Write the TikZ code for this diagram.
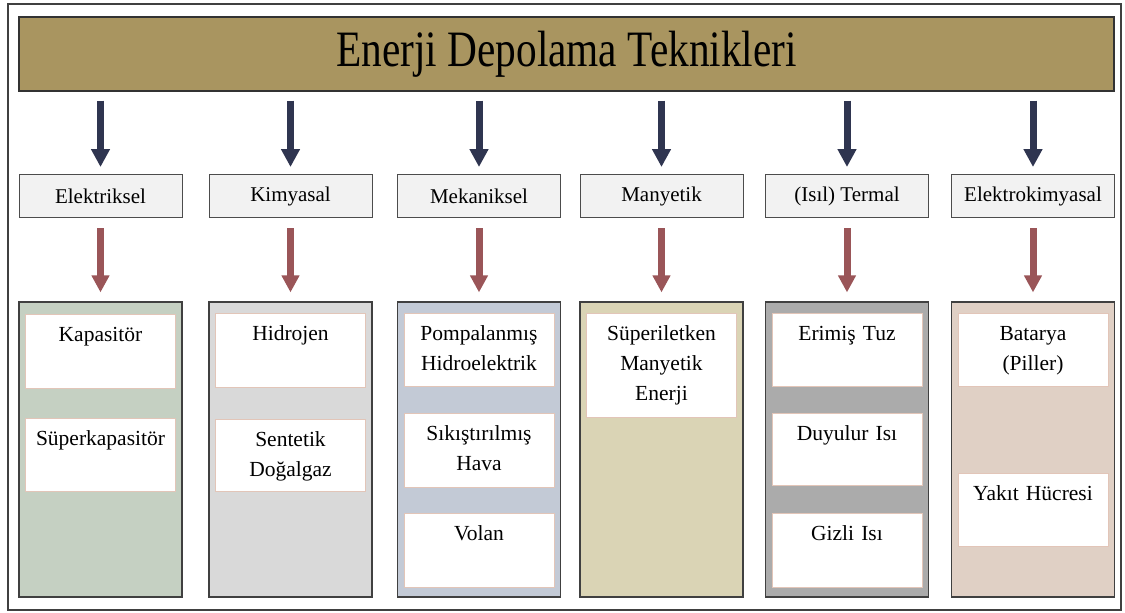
\documentclass[tikz,border=0pt]{standalone}
\usepackage{fontspec}
\usepackage{xcolor}
\usepackage{tikz}
\usetikzlibrary{arrows.meta}
\setmainfont{Liberation Serif}
\newfontfamily\titlefont[FakeStretch=0.81]{Liberation Serif}

\definecolor{titlefill}{HTML}{A99560}
\definecolor{catfill}{HTML}{F2F2F2}
\definecolor{arrownavy}{HTML}{2F3550}
\definecolor{arrowred}{HTML}{9A5558}
\definecolor{itemline}{HTML}{E2C5B8}
\definecolor{colgreen}{HTML}{C5D0C2}
\definecolor{colgray}{HTML}{D9D9D9}
\definecolor{colblue}{HTML}{C3CAD6}
\definecolor{colbeige}{HTML}{DAD4B5}
\definecolor{coldark}{HTML}{ABABAB}
\definecolor{colpink}{HTML}{E0D0C5}

\tikzstyle{frame} = [line width=1.2pt, draw=black!75]
\tikzstyle{titlebox} = [draw=black!80, line width=1.2pt, fill=titlefill, minimum width=1095pt, minimum height=74pt, inner sep=0pt, font=\titlefont\fontsize{51}{60}\selectfont]
\tikzstyle{catbox} = [draw=black!70, line width=1pt, fill=catfill, minimum width=163pt, minimum height=43pt, inner sep=0pt, font=\fontsize{21}{28}\selectfont]
\tikzstyle{colbox} = [draw=black!75, line width=1.2pt, minimum width=163pt, minimum height=295pt, inner sep=0pt]
\tikzstyle{itembox} = [draw=itemline, line width=0.8pt, fill=white, minimum width=150pt, minimum height=74pt, inner sep=0pt, anchor=north]
\tikzstyle{itemtext} = [text width=150pt, align=center, inner sep=0pt, anchor=north, text height=15pt, yshift=-12pt, font=\fontsize{21.5}{30}\selectfont]
\tikzstyle{navyarrow} = [line width=7pt, draw=arrownavy, -{Triangle[width=18pt,length=18pt]}, shorten <=9pt, shorten >=7pt]
\tikzstyle{redarrow} = [line width=7pt, draw=arrowred, -{Triangle[width=17pt,length=17pt]}, shorten <=10pt, shorten >=9pt]

\begin{document}
\begin{tikzpicture}[x=1pt, y=-1pt]
        \useasboundingbox (0,0) rectangle (1125,613);
        \draw[frame] (8,4) rectangle (1121,610);

        \node[titlebox] (title) at (566.5,54) {Enerji Depolama Teknikleri};

        % Categories
        \node[catbox] (elek) at (100.5,196) {Elektriksel};
        \node[catbox] (kimya) at (290.5,196) {Kimyasal};
        \node[catbox] (meka) at (479,196) {Mekaniksel};
        \node[catbox] (many) at (661.5,196) {Manyetik};
        \node[catbox] (term) at (847,196) {(Isıl) Termal};
        \node[catbox] (ekim) at (1033,196) {Elektrokimyasal};

        % Columns
        \node[colbox, fill=colgreen] (elekcol) at (100.5,449.5) {};
        \node[colbox, fill=colgray] (kimyacol) at (290.5,449.5) {};
        \node[colbox, fill=colblue] (mekacol) at (479,449.5) {};
        \node[colbox, fill=colbeige] (manycol) at (661.5,449.5) {};
        \node[colbox, fill=coldark] (termcol) at (847,449.5) {};
        \node[colbox, fill=colpink] (ekimcol) at (1033,449.5) {};

        % Elektriksel
        \node[itembox] (kapa) at (100.5,314) {};
            \node[itemtext] (kapat) at (kapa.north) {Kapasitör};
        \node[itembox, minimum height=73pt] (superk) at (100.5,418) {};
            \node[itemtext] (superkt) at (superk.north) {Süperkapasitör};

        % Kimyasal
        \node[itembox] (hidro) at (290.5,313) {};
            \node[itemtext] (hidrot) at (hidro.north) {Hidrojen};
        \node[itembox, minimum height=72pt] (sent) at (290.5,419) {};
            \node[itemtext] (sentt) at (sent.north) {Sentetik\\Doğalgaz};

        % Mekaniksel
        \node[itembox, minimum height=73pt] (pomp) at (479,313) {};
            \node[itemtext] (pompt) at (pomp.north) {Pompalanmış\\Hidroelektrik};
        \node[itembox] (sikis) at (479,413) {};
            \node[itemtext] (sikist) at (sikis.north) {Sıkıştırılmış\\Hava};
        \node[itembox] (volan) at (479,513) {};
            \node[itemtext] (volant) at (volan.north) {Volan};

        % Manyetik
        \node[itembox, minimum height=104pt] (super) at (661.5,313) {};
            \node[itemtext] (supert) at (super.north) {Süperiletken\\Manyetik\\Enerji};

        % Termal
        \node[itembox, minimum height=73pt] (erim) at (847,313) {};
            \node[itemtext] (erimt) at (erim.north) {Erimiş Tuz};
        \node[itembox, minimum height=72pt] (duyu) at (847,413) {};
            \node[itemtext] (duyut) at (duyu.north) {Duyulur Isı};
        \node[itembox] (gizli) at (847,513) {};
            \node[itemtext] (gizlit) at (gizli.north) {Gizli Isı};

        % Elektrokimyasal
        \node[itembox, minimum height=73pt] (bata) at (1033,313) {};
            \node[itemtext] (batat) at (bata.north) {Batarya\\(Piller)};
        \node[itembox, minimum height=73pt] (yakit) at (1033,473) {};
            \node[itemtext] (yakitt) at (yakit.north) {Yakıt Hücresi};

        % Draw Arrows
        \draw[navyarrow] (elek.north |- title.south) -- (elek.north);
        \draw[navyarrow] (kimya.north |- title.south) -- (kimya.north);
        \draw[navyarrow] (meka.north |- title.south) -- (meka.north);
        \draw[navyarrow] (many.north |- title.south) -- (many.north);
        \draw[navyarrow] (term.north |- title.south) -- (term.north);
        \draw[navyarrow] (ekim.north |- title.south) -- (ekim.north);

        \draw[redarrow] (elek.south) -- (elekcol.north);
        \draw[redarrow] (kimya.south) -- (kimyacol.north);
        \draw[redarrow] (meka.south) -- (mekacol.north);
        \draw[redarrow] (many.south) -- (manycol.north);
        \draw[redarrow] (term.south) -- (termcol.north);
        \draw[redarrow] (ekim.south) -- (ekimcol.north);

    \end{tikzpicture}
\end{document}
